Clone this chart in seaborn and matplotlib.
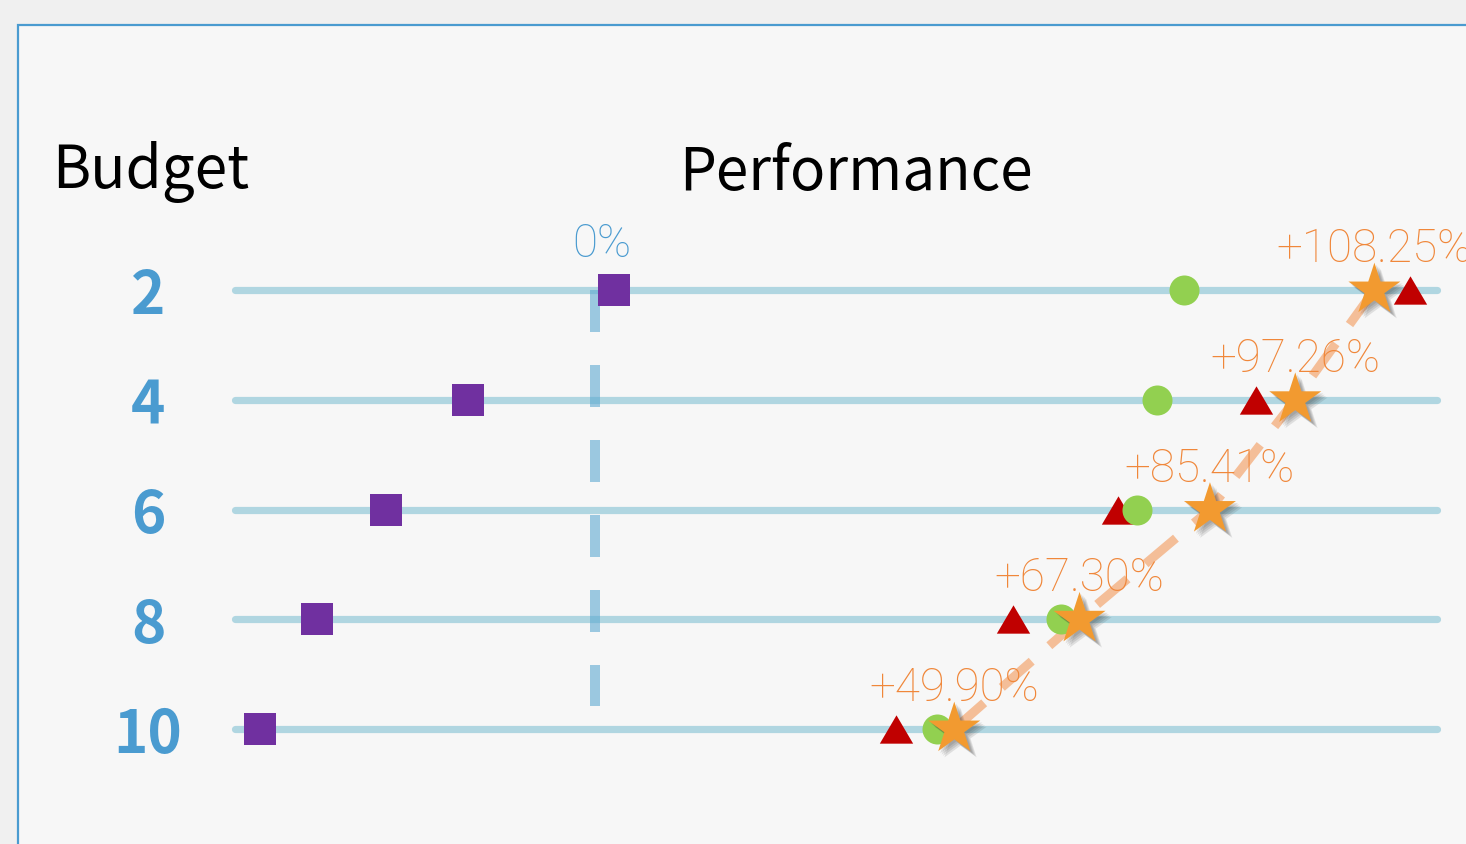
import matplotlib
matplotlib.use("Agg")
import matplotlib.pyplot as plt
import matplotlib.patheffects as pe
from matplotlib.patches import Rectangle
from matplotlib.path import Path
import numpy as np
import pandas as pd
import seaborn as sns

# Budget levels (one row each) and relative performance gain (%) of each method
budgets = ["2", "4", "6", "8", "10"]
baseline_gain = [2.6, -17.6, -29.0, -38.6, -46.5]
method_b_gain = [81.8, 78.1, 75.3, 64.7, 47.5]
method_c_gain = [113.2, 91.8, 72.6, 58.1, 41.8]
ours_gain = [108.25, 97.26, 85.41, 67.30, 49.90]

sns.set_theme(style="white")
plt.rcParams["font.family"] = ["Noto Sans CJK SC", "DejaVu Sans"]
LABEL_FONT = ["Roboto", "Noto Sans CJK SC", "DejaVu Sans"]

W, H = 1466, 844
fig = plt.figure(figsize=(W / 100, H / 100), dpi=100)
fig.patch.set_facecolor("#f0f0f0")

# light panel with a thin blue frame
fig.add_artist(Rectangle((18 / W, -0.05), 1.1, 1.05 - 25 / H, transform=fig.transFigure,
                         facecolor="#f7f7f7", edgecolor="#4a9bd0", linewidth=1.6, zorder=0))

ax = fig.add_axes([200 / W, 0, 1 - 200 / W, 1])
ax.set_facecolor("none")
for s in ax.spines.values():
    s.set_visible(False)

rows = np.arange(len(budgets))
px_per_unit = 7.2
row_px = 109.75
ax.set_xlim((200 - 595) / px_per_unit, (W - 595) / px_per_unit)
ax.set_ylim((H - 290) / row_px, -290 / row_px)

# guide line for every budget
guides = ax.hlines(rows, -50, 117, color="#a9d3df", alpha=0.9, linewidth=5.2, zorder=1)
guides.set_capstyle("round")

# dashed zero reference
ax.plot([0, 0], [0, 3.79], color="#5ea9d1", alpha=0.6, linewidth=7.2,
        linestyle=(0, (4.2, 3.3)), solid_capstyle="butt", dash_capstyle="butt", zorder=2)

df = pd.DataFrame({
    "row": np.tile(rows, 4),
    "gain": baseline_gain + method_b_gain + method_c_gain + ours_gain,
    "method": ["baseline"] * 5 + ["b"] * 5 + ["c"] * 5 + ["ours"] * 5,
})

# trend through our results
trend = df[df.method == "ours"].iloc[::-1]
ax.plot(trend["gain"], trend["row"], color="#f4ab78", alpha=0.75, linewidth=6.5,
        linestyle=(0, (4.4, 2.6)), dash_capstyle="butt", zorder=3)

tri = Path([(-1, -0.85), (1, -0.85), (0, 0.85), (-1, -0.85)],
           [Path.MOVETO, Path.LINETO, Path.LINETO, Path.CLOSEPOLY])

sns.scatterplot(data=df[df.method == "baseline"], x="gain", y="row", marker="s", s=530,
                color="#7030a0", linewidth=0, ax=ax, zorder=4, legend=False)
sns.scatterplot(data=df[df.method == "c"], x="gain", y="row", marker=tri, s=576,
                color="#c00000", linewidth=0, ax=ax, zorder=5, legend=False)
sns.scatterplot(data=df[df.method == "b"], x="gain", y="row", marker="o", s=467,
                color="#92d050", linewidth=0, ax=ax, zorder=6, legend=False)
sns.scatterplot(data=df[df.method == "ours"], x="gain", y="row", marker="*", s=1550,
                color="#f29a30", linewidth=0, ax=ax, zorder=7, legend=False)
star_coll = ax.collections[-1]
# soft drop shadow built from a few offset layers
shadow = [pe.SimplePatchShadow(offset=(d, -d), shadow_rgbFace="#303030", alpha=0.12)
          for d in (1.5, 2.5, 3.5, 4.5)]
star_coll.set_path_effects(shadow + [pe.Normal()])

for r, g in zip(rows, ours_gain):
    ax.annotate(f"+{g:.2f}%", (g, r), xytext=(0, 20), textcoords="offset points",
                ha="center", va="baseline", fontsize=33, fontweight="light",
                family=LABEL_FONT, color="#f0873a", zorder=8, annotation_clip=False)

ax.annotate("0%", (1, 0), xytext=(0, 24), textcoords="offset points", ha="center",
            va="baseline", fontsize=33, fontweight="light", family=LABEL_FONT,
            color="#4a9bd0")

ax.set_xticks([])
ax.set_yticks(rows)
ax.set_yticklabels(budgets, fontsize=42, fontweight="bold", color="#4a9bd0")
ax.tick_params(axis="y", length=0, pad=37.4)
for lab in ax.get_yticklabels():
    lab.set_horizontalalignment("center")
ax.set_xlabel("")
ax.set_ylabel("")

fig.text(151 / W, 1 - 188 / H, "Budget", ha="center", va="baseline", fontsize=42, color="black")
fig.text(856 / W, 1 - 190 / H, "Performance", ha="center", va="baseline", fontsize=42, color="black")

fig.savefig("out.png", dpi=100, facecolor=fig.get_facecolor())
